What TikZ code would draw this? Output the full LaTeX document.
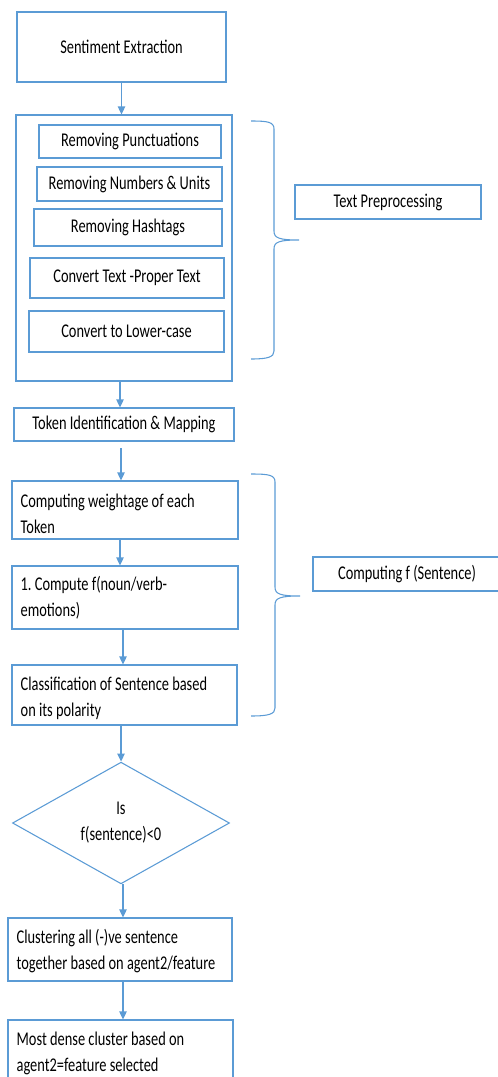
\documentclass[tikz,border=0pt]{standalone}
\usepackage{fontspec}
\setmainfont{Carlito}[FakeStretch=0.74]
\usepackage{tikz}
\definecolor{flowBlue}{RGB}{91, 155, 213}
\usetikzlibrary{shapes.geometric, arrows.meta, positioning}

\begin{document}
\begin{tikzpicture}[
    x=0.75pt, y=-0.75pt,
    font=\fontsize{14.6}{19.5}\selectfont,
    proc/.style={rectangle, draw=flowBlue, line width=0.8pt, align=center, inner sep=0pt},
    procl/.style={rectangle, draw=flowBlue, line width=0.8pt, align=flush left, inner xsep=6.5pt, inner ysep=0pt, text height=18.75pt},
    decide/.style={diamond, draw=flowBlue, line width=0.8pt, align=center, inner sep=0pt},
    flow/.style={flowBlue, line width=1pt, -{Triangle[length=6pt, width=5.5pt]}},
    curly/.style={flowBlue, line width=0.8pt}
]
    \useasboundingbox (0,0) rectangle (497,1077);

    % main column
    \node[proc, minimum width=156.75pt, minimum height=52.5pt] (extract) at (121.5,47) {Sentiment Extraction};
    \node[proc, minimum width=162pt, minimum height=199.5pt] (prep) at (124,248) {};
    \node[proc, minimum width=136.5pt, minimum height=24.75pt] (punct) at (130,141.5) {Removing Punctuations};
    \node[proc, minimum width=138.75pt, minimum height=25.5pt] (numbers) at (129.5,184) {Removing Numbers \& Units};
    \node[proc, minimum width=141pt, minimum height=27.75pt] (hashtags) at (128,227.5) {Removing Hashtags};
    \node[proc, minimum width=145.5pt, minimum height=30pt] (proper) at (127,278) {Convert Text -Proper Text};
    \node[proc, minimum width=146.25pt, minimum height=30.75pt] (lower) at (126.5,331.5) {Convert to Lower-case};
    \node[proc, minimum width=165pt, minimum height=24.75pt] (token) at (124,424.5) {Token Identification \& Mapping};
    \node[procl, text width=156.5pt, text height=19.5pt, text depth=24pt] (weight) at (125,510) {Computing weightage of each\\Token};
    \node[procl, text width=156.5pt, text height=18pt, text depth=29.25pt] (compute) at (125,597.5) {1.\ Compute f(noun/verb-\\emotions)};
    \node[procl, text width=155.75pt, text depth=26.25pt] (classify) at (124.5,695) {Classification of Sentence based\\on its polarity};
    \node[decide, minimum width=162.75pt, minimum height=90pt] (negative) at (121,823) {Is\\f(sentence)<0};
    \node[procl, text width=155pt, text depth=28.5pt] (cluster) at (120,949.5) {Clustering all (-)ve sentence\\together based on agent2/feature};
    \node[procl, text width=155.75pt, text depth=30pt] (dense) at (120.5,1052.5) {Most dense cluster based on\\agent2=feature selected};

    % side labels
    \node[proc, minimum width=139.5pt, minimum height=25.5pt] (preptag) at (388,202) {Text Preprocessing};
    \node[proc, minimum width=141pt, minimum height=25.5pt] (fsenttag) at (407,574) {Computing f (Sentence)};

    % braces
    \draw[curly] (251,121) .. controls (268,121) and (274,122) .. (274,129) -- (274,231)
        .. controls (274,238) and (279,240) .. (299,240)
        .. controls (279,240) and (274,242) .. (274,249) -- (274,351)
        .. controls (274,357) and (268,359) .. (251,359);
    \draw[curly] (251,474) .. controls (269,474) and (275,475) .. (275,482) -- (275,587)
        .. controls (275,594) and (280,596) .. (300,596)
        .. controls (280,596) and (275,598) .. (275,605) -- (275,708)
        .. controls (275,714) and (269,716) .. (251,716);

    % arrows
    \draw[flow] (extract.south) -- (extract.south |- prep.north);
    \draw[flow] ([xshift=-3pt]prep.south) -- ([xshift=-3pt]prep.south |- token.north);
    \draw[flow, shorten <=5pt] ([xshift=-2.25pt]token.south) -- ([xshift=-2.25pt]token.south |- weight.north);
    \draw[flow] ([xshift=-3.75pt]weight.south) -- ([xshift=-3.75pt]weight.south |- compute.north);
    \draw[flow] ([xshift=-1.5pt]compute.south) -- ([xshift=-1.5pt]compute.south |- classify.north);
    \draw[flow] ([xshift=-2.6pt]classify.south) -- ([xshift=-2.6pt]classify.south |- negative.north);
    \draw[flow] ([xshift=1.5pt]negative.south) -- ([xshift=1.5pt]negative.south |- cluster.north);
    \draw[flow] ([xshift=2.25pt]cluster.south) -- ([xshift=2.25pt]cluster.south |- dense.north);
\end{tikzpicture}
\end{document}
